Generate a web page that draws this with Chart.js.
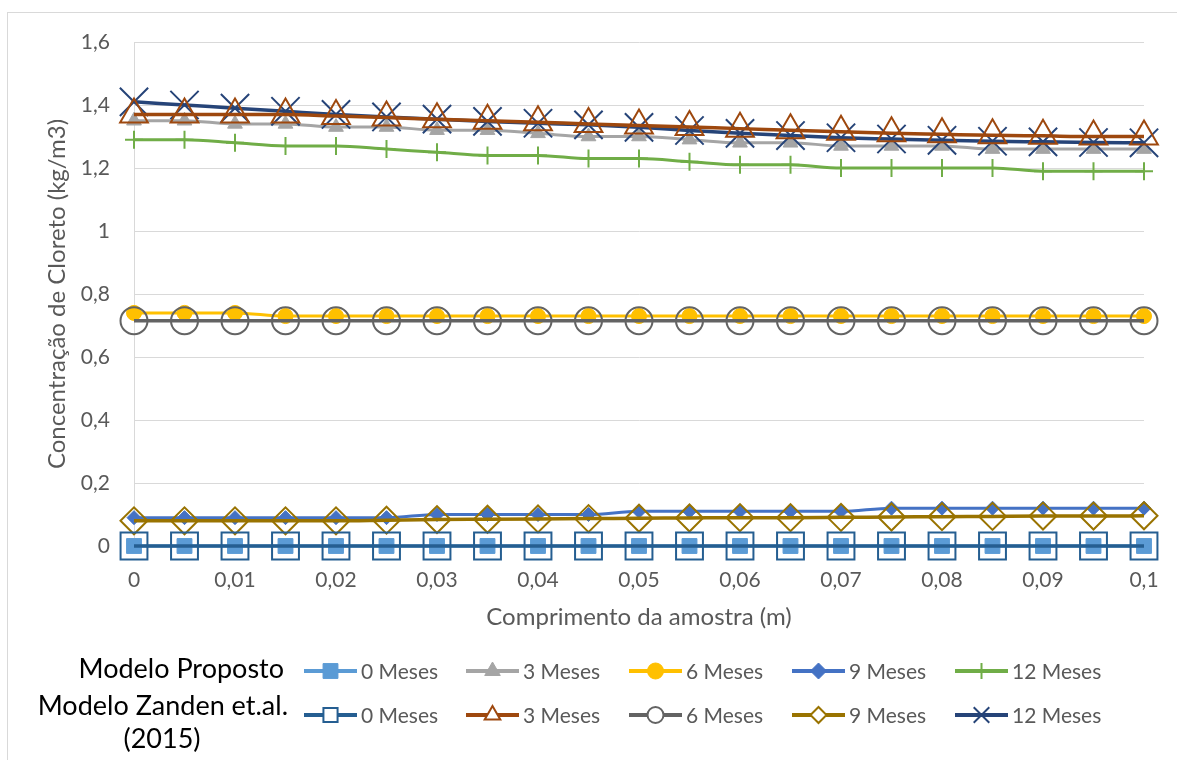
<!DOCTYPE html>
<html>
<head>
<meta charset="utf-8">
<script src="https://cdn.jsdelivr.net/npm/chart.js@4.4.1/dist/chart.umd.min.js"></script>
<style>
  html, body { margin: 0; padding: 0; background: #fff; }
</style>
</head>
<body>
<canvas id="chlorideChart" width="1177" height="760"></canvas>
<script>
const categories = ['0', '0,005', '0,01', '0,015', '0,02', '0,025', '0,03', '0,035', '0,04', '0,045', '0,05',
  '0,055', '0,06', '0,065', '0,07', '0,075', '0,08', '0,085', '0,09', '0,095', '0,1'];

// Modelo Proposto
const proposto0 = [0, 0, 0, 0, 0, 0, 0, 0, 0, 0, 0, 0, 0, 0, 0, 0, 0, 0, 0, 0, 0];
const proposto3 = [1.35, 1.35, 1.34, 1.34, 1.33, 1.33, 1.32, 1.32, 1.31, 1.30, 1.30, 1.29, 1.28, 1.28, 1.27, 1.27, 1.27, 1.26, 1.26, 1.26, 1.26];
const proposto6 = [0.74, 0.74, 0.74, 0.73, 0.73, 0.73, 0.73, 0.73, 0.73, 0.73, 0.73, 0.73, 0.73, 0.73, 0.73, 0.73, 0.73, 0.73, 0.73, 0.73, 0.73];
const proposto9 = [0.09, 0.09, 0.09, 0.09, 0.09, 0.09, 0.10, 0.10, 0.10, 0.10, 0.11, 0.11, 0.11, 0.11, 0.11, 0.12, 0.12, 0.12, 0.12, 0.12, 0.12];
const proposto12 = [1.29, 1.29, 1.28, 1.27, 1.27, 1.26, 1.25, 1.24, 1.24, 1.23, 1.23, 1.22, 1.21, 1.21, 1.20, 1.20, 1.20, 1.20, 1.19, 1.19, 1.19];

// Modelo Zanden et.al. (2015)
const zanden0 = [0, 0, 0, 0, 0, 0, 0, 0, 0, 0, 0, 0, 0, 0, 0, 0, 0, 0, 0, 0, 0];
const zanden3 = [1.37, 1.37, 1.37, 1.37, 1.365, 1.36, 1.355, 1.35, 1.345, 1.34, 1.335, 1.33, 1.325, 1.32, 1.315, 1.31, 1.307, 1.304, 1.302, 1.30, 1.30];
const zanden6 = [0.715, 0.715, 0.715, 0.715, 0.715, 0.715, 0.715, 0.715, 0.715, 0.715, 0.715, 0.715, 0.715, 0.715, 0.715, 0.715, 0.715, 0.715, 0.715, 0.715, 0.715];
const zanden9 = [0.08, 0.08, 0.08, 0.08, 0.08, 0.082, 0.084, 0.085, 0.086, 0.087, 0.088, 0.089, 0.09, 0.09, 0.091, 0.092, 0.093, 0.094, 0.095, 0.095, 0.096];
const zanden12 = [1.41, 1.40, 1.39, 1.38, 1.37, 1.362, 1.355, 1.348, 1.342, 1.337, 1.329, 1.319, 1.31, 1.303, 1.296, 1.292, 1.288, 1.285, 1.283, 1.281, 1.28];

const rowTitles = ['Modelo Proposto', 'Modelo Zanden et.al.', '(2015)'];

Chart.defaults.font.family = 'Lato';
Chart.defaults.font.size = 21;
Chart.defaults.color = '#595959';

function series(label, data, color, style, radius, hollow, width, order, legendRadius) {
  return {
    label: label,
    data: data,
    borderColor: color,
    backgroundColor: color,
    borderWidth: width,
    pointStyle: style,
    pointRadius: radius,
    pointHoverRadius: radius,
    pointBackgroundColor: hollow ? 'rgba(0,0,0,0)' : color,
    pointBorderColor: color,
    pointBorderWidth: hollow || style === 'cross' || style === 'crossRot' ? 2 : 1,
    cubicInterpolationMode: 'monotone',
    fill: false,
    clip: false,
    order: order,
    legendRadius: legendRadius,
    hollow: hollow
  };
}

const datasets = [
  series('0 Meses', proposto0, '#5B9BD5', 'rect', 10.5, false, 3, 1, 10.5),
  series('3 Meses', proposto3, '#A5A5A5', 'triangle', 8.5, false, 3, 1, 9),
  series('6 Meses', proposto6, '#FFC000', 'circle', 7.5, false, 3, 1, 8),
  series('9 Meses', proposto9, '#4472C4', 'rectRot', 7, false, 3, 1, 8),
  series('12 Meses', proposto12, '#70AD47', 'cross', 9, false, 3, 1, 8),
  series('0 Meses', zanden0, '#255E91', 'rect', 19, true, 3.5, 0, 10),
  series('3 Meses', zanden3, '#9E480E', 'triangle', 16, true, 3.5, 0, 9),
  series('6 Meses', zanden6, '#636363', 'circle', 13.5, true, 3.5, 0, 8),
  series('9 Meses', zanden9, '#997300', 'rectRot', 13.5, true, 3.5, 0, 8),
  series('12 Meses', zanden12, '#264478', 'crossRot', 20, true, 3.5, 0, 11)
];

const frame = {
  id: 'frame',
  beforeDraw(chart) {
    const ctx = chart.ctx;
    ctx.save();
    ctx.fillStyle = '#fff';
    ctx.fillRect(0, 0, chart.width, chart.height);
    ctx.strokeStyle = '#D9D9D9';
    ctx.lineWidth = 1;
    ctx.strokeRect(7.5, 12.5, chart.width, chart.height);
    ctx.restore();
  }
};

const legendX = [304, 466, 629, 792, 955];
const legendY = [671, 715];

const twoRowLegend = {
  id: 'twoRowLegend',
  afterDraw(chart) {
    const ctx = chart.ctx;
    ctx.save();
    ctx.font = '27px Lato';
    ctx.fillStyle = '#000';
    ctx.textBaseline = 'middle';
    ctx.textAlign = 'right';
    ctx.fillText(rowTitles[0], 284, 669);
    ctx.fillText(rowTitles[1], 288, 706);
    ctx.textAlign = 'center';
    ctx.fillText(rowTitles[2], 162, 739);

    ctx.font = '21px Lato';
    ctx.textAlign = 'left';
    chart.data.datasets.forEach((ds, i) => {
      const x0 = legendX[i % 5];
      const y = legendY[i < 5 ? 0 : 1];
      ctx.strokeStyle = ds.borderColor;
      ctx.lineWidth = 4;
      ctx.beginPath();
      ctx.moveTo(x0, y);
      ctx.lineTo(x0 + 53, y);
      ctx.stroke();
      // hollow markers sit on a white patch over the line
      ctx.fillStyle = ds.hollow ? '#fff' : ds.pointBackgroundColor;
      ctx.strokeStyle = ds.pointBorderColor;
      ctx.lineWidth = ds.pointBorderWidth;
      Chart.helpers.drawPoint(ctx, {
        pointStyle: ds.pointStyle,
        radius: ds.legendRadius,
        rotation: 0,
        borderWidth: ds.pointBorderWidth
      }, x0 + 26.5, y);
      ctx.fillStyle = '#595959';
      ctx.fillText(ds.label, x0 + 57, y + 1);
    });
    ctx.restore();
  }
};

new Chart(document.getElementById('chlorideChart'), {
  type: 'line',
  data: { labels: categories, datasets: datasets },
  options: {
    responsive: false,
    animation: false,
    layout: { padding: { left: 39, right: 33, top: 42, bottom: 124 } },
    plugins: {
      legend: { display: false },
      tooltip: { enabled: false }
    },
    scales: {
      x: {
        grid: { display: false },
        border: { color: '#D9D9D9' },
        ticks: {
          autoSkip: false,
          maxRotation: 0,
          padding: 14,
          callback: function (value, index) {
            return index % 2 === 0 ? categories[index] : '';
          }
        },
        title: { display: true, text: 'Comprimento da amostra (m)', font: { size: 24 } },
        afterFit: function (scale) { scale.height = 90; }
      },
      y: {
        min: 0,
        max: 1.6,
        grid: { color: '#D9D9D9', drawTicks: false },
        border: { color: '#D9D9D9' },
        ticks: {
          stepSize: 0.2,
          padding: 24,
          callback: function (value) {
            return String(Number(value.toFixed(1))).replace('.', ',');
          }
        },
        title: { display: true, text: 'Concentração de Cloreto (kg/m3)', font: { size: 24 } },
        afterFit: function (scale) { scale.width = 95; }
      }
    }
  },
  plugins: [frame, twoRowLegend]
});
</script>
</body>
</html>
